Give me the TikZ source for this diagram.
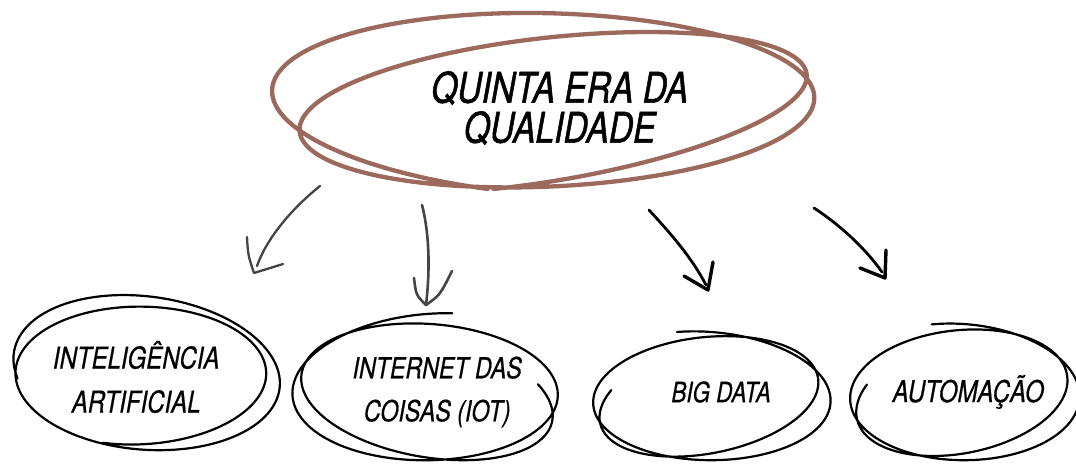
\documentclass[tikz,border=0pt]{standalone}
\usepackage{fontspec}
\newfontfamily\hand[FakeSlant=0.18,FakeStretch=0.8,FakeBold=0.6]{TeX Gyre Heros}
\newfontfamily\handbig[FakeSlant=0.18,FakeStretch=0.8,FakeBold=1.2]{TeX Gyre Heros}
\definecolor{brownline}{RGB}{155,106,92}
\definecolor{grayarrow}{RGB}{68,68,68}

\def\scribA#1,#2,#3,#4,#5;{\def\xa{#1}\def\ya{#2}\def\aa{#3}\def\ba{#4}\def\ra{#5}}
\def\scribB#1,#2,#3,#4,#5;{\def\xb{#1}\def\yb{#2}\def\ab{#3}\def\bb{#4}\def\rb{#5}}
\newcommand\scrib[5][]{%
  \scribA#2;\scribB#3;%
  \def\S{((\t-(#4))/((#5)-(#4)))}%
  \def\L##1##2{((##1)+((##2)-(##1))*\S)}%
  \draw[#1] plot[smooth, samples=160, domain=#4:#5, variable=\t]
   ({\L{\xa}{\xb}+\L{\aa}{\ab}*cos(\t)*cos(\L{\ra}{\rb})-\L{\ba}{\bb}*sin(\t)*sin(\L{\ra}{\rb})},
    {\L{\ya}{\yb}+\L{\aa}{\ab}*cos(\t)*sin(\L{\ra}{\rb})+\L{\ba}{\bb}*sin(\t)*cos(\L{\ra}{\rb})});%
}

\tikzset{
  bigtext/.style={align=center, inner sep=0pt, font=\handbig\fontsize{42}{40}\selectfont},
  smalltext/.style={align=center, inner sep=0pt, font=\hand\fontsize{30}{44}\selectfont},
  ring/.style={line width=2.2pt, line cap=round, line join=round, black},
  mainring/.style={line width=4.3pt, line cap=round, line join=round, brownline},
  shaft/.style={line cap=round, line join=round},
  grayarr/.style={shaft, grayarrow, line width=2.3pt},
  blackarr/.style={shaft, black, line width=2.8pt},
}

\begin{document}
\begin{tikzpicture}[x=1pt,y=-1pt]
\useasboundingbox (0,0) rectangle (1076,467);
\fill[white] (0,0) rectangle (1076,467);

% main scribble
\scrib[mainring]{542,98,276,96,4}{564,114,244,64,-11}{100}{830}
\node[bigtext] (main) at (558,108) {QUINTA ERA DA\\QUALIDADE};

% bottom scribbles
\scrib[ring]{150,374,138,80,10}{140,378,122,66,-4}{160}{830}
\node[smalltext] (ia) at (135,377) {INTELIGÊNCIA\\ARTIFICIAL};

\scrib[ring]{430,394,125,62,14}{425,388,135,74,-6}{325}{1005}
\node[smalltext, font=\hand\fontsize{29}{43}\selectfont] (iot) at (436,392) {INTERNET DAS\\COISAS (IOT)};

\scrib[ring]{712,398,122,66,6}{705,396,108,55,-16}{250}{935}
\node[smalltext, font=\hand\fontsize{28}{40}\selectfont] (bd) at (720,392) {BIG DATA};

\scrib[ring]{965,394,118,70,6}{958,393,104,58,-16}{250}{935}
\node[smalltext] (aut) at (967,392) {AUTOMAÇÃO};

% arrows
\coordinate (a1s) at (320,186); \coordinate (a1e) at (257,266);
\coordinate (a1l) at (247,237); \coordinate (a1t) at (254,273); \coordinate (a1r) at (283,264);
\draw[grayarr] (a1s) .. controls (290,210) and (266,240) .. (a1e);
\draw[grayarr] (a1l) .. controls (248,255) .. (a1t) -- (a1r);

\coordinate (a2s) at (422,205); \coordinate (a2t) at (426,305);
\coordinate (a2l) at (414,278); \coordinate (a2r) at (452,271);
\draw[grayarr, line width=2.6pt] (a2s) .. controls (431,240) and (429,280) .. (a2t);
\draw[grayarr, line width=2.6pt] (a2l) .. controls (416,295) .. (a2t) .. controls (440,295) .. (a2r);

\coordinate (a3s) at (649,210); \coordinate (a3e) at (706,285);
\coordinate (a3u) at (713,262); \coordinate (a3t) at (708,290); \coordinate (a3l) at (684,276);
\draw[blackarr] (a3s) .. controls (672,235) and (692,258) .. (a3e);
\draw[blackarr, line width=3.4pt] (a3u) -- (a3t) -- (a3l);

\coordinate (a4s) at (814,208); \coordinate (a4e) at (882,272);
\coordinate (a4u) at (886,250); \coordinate (a4t) at (885,278); \coordinate (a4l) at (860,268);
\draw[blackarr] (a4s) .. controls (840,225) and (865,248) .. (a4e);
\draw[blackarr, line width=3.4pt] (a4u) -- (a4t) -- (a4l);
\end{tikzpicture}
\end{document}
